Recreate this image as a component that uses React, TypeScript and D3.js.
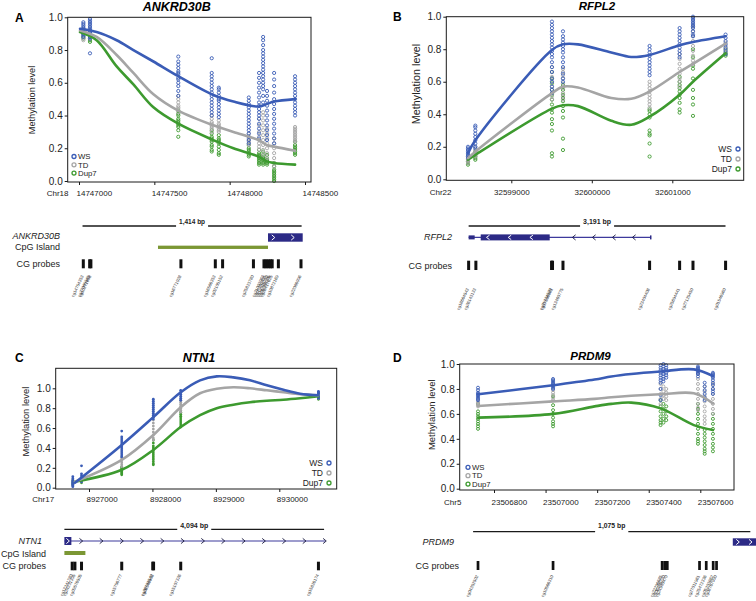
import React, { useEffect, useRef } from "react";
import * as d3 from "d3";

const FONT = "'Liberation Sans', Arial, Helvetica, sans-serif";
const colors: any = { WS: "#3a5cb6", TD: "#a5a5a5", Dup7: "#3d9a2f" };
const geneColor = "#2c2a86";
const cpgColor = "#7b9734";
const drawOrder = ["Dup7", "TD", "WS"];
const legendOrder = ["WS", "TD", "Dup7"];
const yTicks = [0, 0.2, 0.4, 0.6, 0.8, 1.0];

// ---------- A: ANKRD30B (Chr18) ----------
const aTicks = [14747000, 14747500, 14748000, 14748500];
const aCols = [14747029, 14747073, 14747659, 14747881, 14747928, 14748127, 14748195, 14748222, 14748248, 14748295, 14748434];
const aWS = [
  [0.97, 0.96, 0.95, 0.94, 0.93, 0.92, 0.91, 0.9, 0.89, 0.88],
  [0.99, 0.98, 0.97, 0.96, 0.95, 0.94, 0.93, 0.92, 0.91, 0.9, 0.89, 0.88, 0.87, 0.78],
  [0.76, 0.73, 0.71, 0.69, 0.67, 0.66, 0.65, 0.63, 0.62, 0.6, 0.58, 0.55, 0.52],
  [0.75, 0.66, 0.64, 0.62, 0.6, 0.58, 0.56, 0.54, 0.52, 0.5, 0.48, 0.46, 0.44, 0.42, 0.4],
  [0.57, 0.56, 0.54, 0.52, 0.5, 0.49, 0.47, 0.45, 0.43, 0.41, 0.39],
  [0.51, 0.49, 0.47, 0.45, 0.43, 0.41, 0.39, 0.37, 0.35, 0.33, 0.31, 0.29, 0.27, 0.25, 0.23],
  [0.66, 0.63, 0.6, 0.57, 0.54, 0.51, 0.48, 0.46, 0.44, 0.42, 0.4, 0.38, 0.35, 0.32, 0.29, 0.26],
  [0.88, 0.86, 0.83, 0.8, 0.78, 0.76, 0.74, 0.72, 0.7, 0.68, 0.66, 0.64, 0.62, 0.6, 0.58, 0.56, 0.52, 0.48],
  [0.55, 0.52, 0.49, 0.46, 0.43, 0.4, 0.37, 0.34, 0.31, 0.28, 0.25],
  [0.66, 0.62, 0.58, 0.54, 0.5, 0.47, 0.44, 0.41, 0.38, 0.35, 0.32, 0.29, 0.26, 0.23],
  [0.64, 0.62, 0.6, 0.58, 0.56, 0.54, 0.52, 0.5, 0.48, 0.46, 0.44, 0.42, 0.4],
];
const aTD = [
  [0.93, 0.91, 0.89, 0.87, 0.86],
  [0.91, 0.89, 0.87],
  [0.52, 0.5, 0.48, 0.46, 0.45, 0.44, 0.42],
  [0.4, 0.38, 0.36, 0.35, 0.34, 0.33, 0.32, 0.3],
  [0.37, 0.35, 0.34, 0.33, 0.32, 0.31, 0.3],
  [0.29, 0.27, 0.26, 0.25, 0.24, 0.23, 0.22],
  [0.38, 0.34, 0.3, 0.27, 0.25, 0.23, 0.21, 0.19],
  [0.42, 0.4, 0.37, 0.34, 0.31, 0.28, 0.25, 0.22, 0.19, 0.16],
  [0.32, 0.29, 0.26, 0.23, 0.2, 0.17, 0.14],
  [0.26, 0.23, 0.2, 0.17, 0.14, 0.11, 0.09],
  [0.33, 0.32, 0.31, 0.3, 0.29, 0.28, 0.27, 0.26, 0.25, 0.24],
];
const aDup7 = [
  [0.9, 0.88, 0.87],
  [0.88, 0.86, 0.85],
  [0.43, 0.41, 0.4, 0.38, 0.37, 0.36, 0.35, 0.34, 0.33, 0.31, 0.27],
  [0.31, 0.29, 0.27, 0.26, 0.25, 0.24, 0.22, 0.21, 0.19, 0.18],
  [0.28, 0.26, 0.25, 0.24, 0.23, 0.21, 0.19, 0.17, 0.16],
  [0.22, 0.2, 0.19, 0.18, 0.17, 0.16, 0.15],
  [0.19, 0.17, 0.16, 0.15, 0.14, 0.13, 0.12, 0.11, 0.1],
  [0.18, 0.16, 0.15, 0.14, 0.13, 0.12, 0.11, 0.1],
  [0.16, 0.14, 0.13, 0.12, 0.11, 0.1],
  [0.11, 0.09, 0.07, 0.06, 0.05, 0.04, 0.03, 0.02, 0.01, 0.0],
  [0.24, 0.22, 0.21, 0.2, 0.19, 0.18, 0.17, 0.16],
];
const aLineX = [14747007, 14747117, 14747250, 14747361, 14747494, 14747659, 14747892, 14748025, 14748191, 14748246, 14748295, 14748434];
const aLineWS = [0.93, 0.91, 0.86, 0.8, 0.73, 0.64, 0.525, 0.485, 0.455, 0.47, 0.485, 0.5];
const aLineTD = [0.92, 0.88, 0.77, 0.66, 0.53, 0.43, 0.34, 0.3, 0.25, 0.22, 0.21, 0.185];
const aLineDup7 = [0.91, 0.86, 0.7, 0.59, 0.45, 0.35, 0.25, 0.2, 0.15, 0.12, 0.11, 0.1];
const aProbes = [14747029, 14747070, 14747078, 14747659, 14747881, 14747928, 14748127, 14748195, 14748208, 14748222, 14748236, 14748248, 14748288, 14748434];
const aProbeIds = ["cg14754353", "cg27085565", "cg10271858", "cg16771028", "cg16586353", "cg02105152", "cg25823780", "cg21002063", "cg07352435", "cg14916252", "cg05388305", "cg26417825", "cg10872169", "cg22086096"];
const aSpan = [14747024, 14748438];
const aExons = [[14748221, 14748445, 8.4]];
const aCpG = [14747511, 14748221];

// ---------- B: RFPL2 (Chr22) ----------
const bTicks = [32599000, 32600000, 32601000];
const bCols = [32598462, 32598553, 32599505, 32599642, 32600718, 32601091, 32601257, 32601662];
const bWS = [
  [0.2, 0.19, 0.18, 0.17, 0.16, 0.15, 0.14, 0.13],
  [0.33, 0.32, 0.3, 0.28, 0.26, 0.24, 0.22, 0.2, 0.19],
  [0.97, 0.95, 0.93, 0.91, 0.89, 0.87, 0.85, 0.83, 0.81, 0.79, 0.77, 0.75, 0.72, 0.69, 0.66, 0.62, 0.6, 0.57, 0.55, 0.53],
  [0.91, 0.88, 0.86, 0.84, 0.82, 0.8, 0.78, 0.75, 0.72, 0.69, 0.65, 0.62, 0.6],
  [0.82, 0.8, 0.78, 0.76, 0.74, 0.72, 0.7, 0.68, 0.66, 0.64],
  [0.93, 0.91, 0.89, 0.87, 0.85, 0.83, 0.81, 0.79, 0.77, 0.75],
  [1.0, 0.99, 0.98, 0.97, 0.96, 0.95, 0.94, 0.93, 0.91, 0.89, 0.88],
  [0.89, 0.87, 0.85, 0.83, 0.81, 0.79, 0.77],
];
const bTD = [
  [0.14, 0.13, 0.12, 0.11, 0.1],
  [0.2, 0.18, 0.17, 0.16, 0.15, 0.14],
  [0.69, 0.66, 0.63, 0.6, 0.57, 0.55, 0.53, 0.51, 0.49],
  [0.68, 0.66, 0.64, 0.62, 0.59, 0.56, 0.53, 0.51, 0.49],
  [0.6, 0.58, 0.56, 0.54, 0.52, 0.5, 0.48, 0.46, 0.44],
  [0.77, 0.74, 0.71, 0.68, 0.65, 0.62, 0.6, 0.57],
  [0.94, 0.91, 0.88, 0.85, 0.82, 0.79, 0.76, 0.73, 0.71],
  [0.84, 0.82, 0.8, 0.78],
];
const bDup7 = [
  [0.11, 0.1, 0.09],
  [0.17, 0.15, 0.14, 0.13, 0.12],
  [0.66, 0.62, 0.59, 0.55, 0.52, 0.49, 0.46, 0.43, 0.41, 0.37, 0.34, 0.3, 0.16, 0.14],
  [0.58, 0.55, 0.52, 0.5, 0.48, 0.45, 0.42, 0.38, 0.25, 0.18],
  [0.43, 0.42, 0.4, 0.38, 0.3, 0.28, 0.27, 0.22, 0.14],
  [0.63, 0.6, 0.58, 0.56, 0.54, 0.52, 0.5, 0.47, 0.43, 0.41],
  [0.8, 0.75, 0.7, 0.68, 0.62, 0.55, 0.5, 0.46, 0.39],
  [0.8, 0.78, 0.77, 0.76],
];
const bLineX = [32598462, 32598553, 32599505, 32599642, 32599828, 32600242, 32600490, 32600718, 32601091, 32601257, 32601662];
const bLineWS = [0.16, 0.24, 0.795, 0.83, 0.83, 0.78, 0.752, 0.765, 0.825, 0.845, 0.88];
const bLineTD = [0.13, 0.17, 0.53, 0.57, 0.565, 0.5, 0.495, 0.54, 0.66, 0.71, 0.835];
const bLineDup7 = [0.12, 0.15, 0.435, 0.455, 0.45, 0.36, 0.335, 0.385, 0.52, 0.6, 0.775];
const bProbes = [32598470, 32598560, 32599500, 32599512, 32599642, 32600718, 32601091, 32601257, 32601662];
const bProbeIds = ["cg18664543", "cg26143133", "cg01234520", "cg17556081", "cg13460775", "cg23404408", "cg25694441", "cg27125450", "cg01546960"];
const bSpan = [32598470, 32601661];
const bExons = [[32598470, 32598545, 4], [32598620, 32599477, 6]];
const bIntron = [32598470, 32600732];

// ---------- C: NTN1 (Chr17) ----------
const cTicks = [8927000, 8928000, 8929000, 8930000];
const cCols = [8926745, 8926882, 8927516, 8928014, 8928446, 8930617];
const cWS = [
  [0.11, 0.09, 0.07, 0.06, 0.05, 0.04, 0.03, 0.02, 0.01],
  [0.22, 0.14, 0.12, 0.1, 0.08, 0.06],
  [0.57, 0.51, 0.49, 0.47, 0.45, 0.43, 0.41, 0.39, 0.37, 0.35, 0.33, 0.31],
  [0.89, 0.87, 0.85, 0.83, 0.81, 0.79, 0.77, 0.75, 0.73, 0.71, 0.69],
  [0.98, 0.96, 0.94, 0.92, 0.9, 0.88],
  [0.97, 0.96, 0.95, 0.94, 0.93, 0.92, 0.91, 0.9],
];
const cTD = [
  [0.08, 0.06, 0.04, 0.03],
  [0.08, 0.07, 0.06],
  [0.31, 0.29, 0.27, 0.25, 0.23, 0.21],
  [0.68, 0.65, 0.62, 0.59, 0.56, 0.53, 0.5, 0.48],
  [0.88, 0.86, 0.84, 0.82, 0.8, 0.78, 0.76],
  [0.94, 0.93, 0.92, 0.91, 0.9],
];
const cDup7 = [
  [0.07, 0.05, 0.04, 0.03],
  [0.07, 0.06, 0.05],
  [0.21, 0.2, 0.19, 0.18, 0.17, 0.16, 0.15, 0.14, 0.13],
  [0.48, 0.45, 0.42, 0.4, 0.38, 0.36, 0.34, 0.32, 0.3, 0.28, 0.26, 0.24, 0.23],
  [0.76, 0.74, 0.72, 0.7, 0.68, 0.66, 0.64, 0.62, 0.61],
  [0.93, 0.92, 0.91, 0.9, 0.89],
];
const cLineX = [8926779, 8927516, 8928014, 8928446, 8928751, 8929014, 8929276, 8929539, 8929803, 8930065, 8930328, 8930617];
const cLineWS = [0.05, 0.43, 0.71, 0.96, 1.08, 1.12, 1.11, 1.08, 1.03, 0.985, 0.946, 0.93];
const cLineTD = [0.06, 0.28, 0.53, 0.81, 0.95, 0.995, 1.01, 1.0, 0.98, 0.96, 0.94, 0.93];
const cLineDup7 = [0.06, 0.18, 0.38, 0.61, 0.73, 0.8, 0.835, 0.86, 0.875, 0.885, 0.9, 0.92];
const cProbes = [8926735, 8926778, 8926882, 8927516, 8928005, 8928018, 8928446, 8930617];
const cProbeIds = ["cg13241780", "cg24231395", "cg09576505", "cg15756777", "cg26783542", "cg08546503", "cg15107326", "cg15826174"];
const cSpan = [8926612, 8930706];
const cExons = [[8926612, 8926722, 8]];
const cIntron = [8926612, 8930722];
const cCpG = [8926612, 8926943];

// ---------- D: PRDM9 (Chr5) ----------
const dTicks = [23506800, 23507000, 23507200, 23507400, 23507600];
const dCols = [23506738, 23507029, 23507446, 23507457, 23507468, 23507591, 23507617, 23507649];
const dWS = [
  [0.81, 0.79, 0.77, 0.76, 0.75, 0.74, 0.73, 0.72, 0.71],
  [0.88, 0.87, 0.86, 0.85, 0.84, 0.83, 0.82, 0.81, 0.8],
  [0.99, 0.97, 0.95, 0.93, 0.91, 0.89, 0.87, 0.85, 0.8, 0.75, 0.71],
  [1.0, 0.98, 0.96, 0.94, 0.92, 0.9, 0.88, 0.86],
  [0.99, 0.97, 0.95, 0.93, 0.91, 0.89],
  [0.98, 0.97, 0.96, 0.95, 0.94, 0.93, 0.92, 0.9],
  [0.85, 0.82, 0.79, 0.76, 0.73, 0.71],
  [0.93, 0.92, 0.91, 0.9, 0.89, 0.87, 0.85, 0.83, 0.8, 0.78, 0.76],
];
const dTD = [
  [0.7, 0.69, 0.68, 0.67, 0.66],
  [0.79, 0.77, 0.75, 0.73, 0.71],
  [0.84, 0.8, 0.76, 0.72, 0.68],
  [0.82, 0.78, 0.75, 0.72],
  [0.8, 0.77, 0.74, 0.71],
  [0.92, 0.88, 0.84, 0.8, 0.76, 0.72, 0.68, 0.65, 0.63],
  [0.82, 0.78, 0.74, 0.7, 0.66, 0.62, 0.58, 0.55, 0.52],
  [0.84, 0.8, 0.76, 0.72, 0.68, 0.64, 0.6],
];
const dDup7 = [
  [0.68, 0.62, 0.6, 0.58, 0.56, 0.54, 0.52, 0.5, 0.48],
  [0.74, 0.67, 0.63, 0.6, 0.57, 0.54, 0.52, 0.5],
  [0.71, 0.66, 0.62, 0.58, 0.55, 0.53, 0.51],
  [0.68, 0.64, 0.6, 0.56, 0.53],
  [0.66, 0.62, 0.58, 0.55],
  [0.68, 0.64, 0.6, 0.56, 0.52, 0.48, 0.44, 0.4, 0.38, 0.36],
  [0.47, 0.44, 0.41, 0.38, 0.35, 0.32, 0.3, 0.28],
  [0.6, 0.56, 0.52, 0.48, 0.44, 0.4, 0.36, 0.33, 0.3],
];
const dLineX = [23506738, 23507029, 23507190, 23507255, 23507332, 23507446, 23507575, 23507649];
const dLineWS = [0.757, 0.83, 0.875, 0.9, 0.92, 0.94, 0.957, 0.904];
const dLineTD = [0.663, 0.7, 0.72, 0.733, 0.745, 0.757, 0.765, 0.684];
const dLineDup7 = [0.57, 0.6, 0.66, 0.68, 0.69, 0.644, 0.51, 0.47];
const dProbes = [23506738, 23507029, 23507452, 23507462, 23507472, 23507597, 23507623, 23507650, 23507663];
const dProbeIds = ["cg04352502", "cg10566310", "cg22296685", "cg06486220", "cg24940470", "cg27011961", "cg25472336", "cg05203862", "cg08767090"];
const dSpan = [23506719, 23507794];
const dExons = [[23507726, 23507840, 7.4]];

const panels: any[] = [
  {
    letter: "A", title: "ANKRD30B", chrom: "Chr18", ticks: aTicks, cols: aCols,
    dots: { WS: aWS, TD: aTD, Dup7: aDup7 }, lineX: aLineX,
    lines: { WS: aLineWS, TD: aLineTD, Dup7: aLineDup7 },
    probes: aProbes, probeIds: aProbeIds, span: aSpan, exons: aExons, intron: null, strand: 1, cpg: aCpG,
    L: {
      x0: 79, x1: 305, boxL: 67.7, boxR: 311, boxT: 17.3, boxB: 182, yZero: 181, yOne: 17.3,
      tickAnchor: "start", tickDx: -3, tickY: 196, chromX: 46.7, ylabX: 31.7, ylabY: 100, ylabSize: 9.2,
      titleX: 176.7, titleY: 10.5, titleSize: 12.5, letterX: 15, letterY: 21.7,
      legX: 74, legY: 156.5, legStep: 8.3, legSide: "left", legSize: 7.8, dotR: 1.6, filled: false,
    },
    T: {
      range: [83.3, 301], spanY: 226, spanLabelY: 224.3, spanSize: 6.5, nameX: 60, nameY: 239.3, geneY: 237.5,
      cpgY: 247.3, cpgH: 3.3, cpgLabelX: 60, cpgLabelY: 249.8, probeTop: 259.3, probeH: 9, probeW: 3,
      probeLabelX: 60, probeLabelY: 267, idY: 276, exonChev: [5.3, 19.4], intronChev: null,
    },
  },
  {
    letter: "B", title: "RFPL2", chrom: "Chr22", ticks: bTicks, cols: bCols,
    dots: { WS: bWS, TD: bTD, Dup7: bDup7 }, lineX: bLineX,
    lines: { WS: bLineWS, TD: bLineTD, Dup7: bLineDup7 },
    probes: bProbes, probeIds: bProbeIds, span: bSpan, exons: bExons, intron: bIntron, strand: -1, cpg: null,
    L: {
      x0: 511.3, x1: 672.3, boxL: 446.3, boxR: 743.7, boxT: 16.7, boxB: 180.3, yZero: 179.3, yOne: 16.7,
      tickAnchor: "middle", tickDx: 0, tickY: 195, chromX: 429.7, ylabX: 416.3, ylabY: 84, ylabSize: 10.8,
      titleX: 597, titleY: 9.5, titleSize: 11.5, letterX: 393, letterY: 21,
      legX: 732, legY: 149, legStep: 10, legSide: "right", legSize: 8.5, dotR: 1.6, filled: false,
    },
    T: {
      spanY: 226, spanLabelY: 224, spanSize: 7, nameX: 452, nameY: 240.2, geneY: 237.4,
      probeTop: 260.7, probeH: 9.3, probeW: 3, probeLabelX: 452, probeLabelY: 268.5, idY: 289,
      exonChev: [7.3, 21.7], intronChev: [24.3, 20],
    },
  },
  {
    letter: "C", title: "NTN1", chrom: "Chr17", ticks: cTicks, cols: cCols,
    dots: { WS: cWS, TD: cTD, Dup7: cDup7 }, lineX: cLineX,
    lines: { WS: cLineWS, TD: cLineTD, Dup7: cLineDup7 },
    probes: cProbes, probeIds: cProbeIds, span: cSpan, exons: cExons, intron: cIntron, strand: 1, cpg: cCpG,
    L: {
      x0: 89, x1: 279.3, boxL: 55.7, boxR: 336.7, boxT: 368.3, boxB: 489, yZero: 487.7, yOne: 388.3,
      tickAnchor: "start", tickDx: -3, tickY: 502, chromX: 32.3, ylabX: 26, ylabY: 421.7, ylabSize: 9.4,
      titleX: 199, titleY: 361.7, titleSize: 12.5, letterX: 15, letterY: 361.7,
      legX: 323, legY: 463, legStep: 10, legSide: "right", legSize: 8.5, dotR: 1.4, filled: true,
    },
    T: {
      spanY: 529.3, spanLabelY: 527.5, spanSize: 7, nameX: 42, nameY: 544, geneY: 541,
      cpgY: 553, cpgH: 4, cpgLabelX: 46, cpgLabelY: 557, probeTop: 561.7, probeH: 8.6, probeW: 3,
      probeLabelX: 46, probeLabelY: 569, idY: 575, exonChev: [3.5, 100], intronChev: [9.7, 20.3],
    },
  },
  {
    letter: "D", title: "PRDM9", chrom: "Chr5", ticks: dTicks, cols: dCols,
    dots: { WS: dWS, TD: dTD, Dup7: dDup7 }, lineX: dLineX,
    lines: { WS: dLineWS, TD: dLineTD, Dup7: dLineDup7 },
    probes: dProbes, probeIds: dProbeIds, span: dSpan, exons: dExons, intron: null, strand: 1, cpg: null,
    L: {
      x0: 494, x1: 700.3, boxL: 459.7, boxR: 734, boxT: 364, boxB: 490, yZero: 488.7, yOne: 364,
      tickAnchor: "start", tickDx: -3, tickY: 505.3, chromX: 444, ylabX: 431.3, ylabY: 414.7, ylabSize: 9.5,
      titleX: 590.5, titleY: 360, titleSize: 11.5, letterX: 393, letterY: 361.7,
      legX: 468, legY: 467.3, legStep: 8.4, legSide: "left", legSize: 7.8, dotR: 1.5, filled: false,
    },
    T: {
      spanY: 531.7, spanLabelY: 527.7, spanSize: 6.8, nameX: 454, nameY: 545, geneY: 542,
      probeTop: 561, probeH: 9, probeW: 2.7, probeLabelX: 459, probeLabelY: 568.5, idY: 576,
      exonChev: [5, 12.7], intronChev: null,
    },
  },
];

function chevron(cx: number, cy: number, dir: number, hw = 1.5, hh = 2.5) {
  return `M${cx - dir * hw},${cy - hh}L${cx + dir * hw},${cy}L${cx - dir * hw},${cy + hh}`;
}

function drawPanel(svg: any, p: any) {
  const L = p.L, T = p.T;
  const g = svg.append("g").attr("font-family", FONT);
  const x = d3.scaleLinear().domain([p.ticks[0], p.ticks[p.ticks.length - 1]]).range([L.x0, L.x1]);
  const y = d3.scaleLinear().domain([0, 1]).range([L.yZero, L.yOne]);

  // dots
  drawOrder.forEach((grp) => {
    const pts = p.dots[grp].flatMap((vals: number[], i: number) => vals.map((v) => [p.cols[i], v]));
    g.append("g").selectAll("circle").data(pts).join("circle")
      .attr("cx", (d: any) => x(d[0]))
      .attr("cy", (d: any) => y(d[1]))
      .attr("r", L.dotR)
      .attr("fill", L.filled ? colors[grp] : "none")
      .attr("stroke", colors[grp])
      .attr("stroke-width", L.filled ? 0 : 0.9);
  });

  // smoothed lines
  const line = d3.line<number>()
    .x((_d, i) => x(p.lineX[i]))
    .y((d) => y(d))
    .curve(d3.curveCatmullRom.alpha(0.5));
  drawOrder.forEach((grp) => {
    g.append("path").attr("d", line(p.lines[grp]))
      .attr("fill", "none").attr("stroke", colors[grp])
      .attr("stroke-width", 2.6).attr("stroke-linecap", "round");
  });

  // frame
  g.append("rect").attr("x", L.boxL).attr("y", L.boxT)
    .attr("width", L.boxR - L.boxL).attr("height", L.boxB - L.boxT)
    .attr("fill", "none").attr("stroke", "#1a1a1a").attr("stroke-width", 1);

  const ya = g.append("g").attr("transform", `translate(${L.boxL},0)`)
    .call(d3.axisLeft(y).tickValues(yTicks).tickSize(3).tickPadding(2).tickFormat(d3.format(".1f")));
  ya.select(".domain").remove();
  ya.attr("font-family", FONT).attr("font-size", 10);
  ya.selectAll("line").attr("stroke", "#1a1a1a");
  ya.selectAll("text").attr("fill", "#222");

  const xa = g.append("g").attr("transform", `translate(0,${L.boxB})`)
    .call(d3.axisBottom(x).tickValues(p.ticks).tickSize(3).tickFormat(d3.format("d")));
  xa.select(".domain").remove();
  xa.attr("font-family", FONT).attr("font-size", 8);
  xa.selectAll("line").attr("stroke", "#1a1a1a");
  xa.selectAll("text").attr("fill", "#222").attr("y", L.tickY - L.boxB).attr("dy", null)
    .attr("dx", L.tickDx).attr("text-anchor", L.tickAnchor);

  g.append("text").attr("x", L.chromX).attr("y", L.tickY).attr("font-size", 8).attr("fill", "#222").text(p.chrom);

  g.append("text").attr("transform", `translate(${L.ylabX},${L.ylabY}) rotate(-90)`)
    .attr("text-anchor", "middle").attr("dy", "0.35em").attr("font-size", L.ylabSize).attr("fill", "#222")
    .text("Methylation level");

  g.append("text").attr("x", L.titleX).attr("y", L.titleY).attr("text-anchor", "middle")
    .attr("font-size", L.titleSize).attr("font-weight", "bold").attr("font-style", "italic").text(p.title);
  g.append("text").attr("x", L.letterX).attr("y", L.letterY)
    .attr("font-size", 12).attr("font-weight", "bold").text(p.letter);

  // legend
  legendOrder.forEach((grp, i) => {
    const cy = L.legY + i * L.legStep;
    const cx = L.legSide === "left" ? L.legX : L.legX + 6;
    g.append("circle").attr("cx", cx).attr("cy", cy).attr("r", 2)
      .attr("fill", "none").attr("stroke", colors[grp]).attr("stroke-width", 1.3);
    g.append("text").attr("x", L.legSide === "left" ? L.legX + 4 : L.legX).attr("y", cy).attr("dy", "0.35em")
      .attr("text-anchor", L.legSide === "left" ? "start" : "end").attr("font-size", L.legSize)
      .attr("fill", "#222").text(grp);
  });

  // ---------- gene track ----------
  const tx = T.range
    ? d3.scaleLinear().domain([p.probes[0], p.probes[p.probes.length - 1]]).range(T.range)
    : x;
  const s0 = tx(p.span[0]), s1 = tx(p.span[1]), sm = (s0 + s1) / 2;
  const lbl = g.append("text").attr("x", sm).attr("y", T.spanLabelY).attr("text-anchor", "middle")
    .attr("font-size", T.spanSize).attr("font-weight", "bold").attr("fill", "#222")
    .text(`${d3.format(",")(p.span[1] - p.span[0])} bp`);
  const half = (lbl.node() as SVGTextElement).getComputedTextLength() / 2 + 3;
  [[s0, sm - half], [sm + half, s1]].forEach(([a, b]) => {
    g.append("line").attr("x1", a).attr("x2", b).attr("y1", T.spanY).attr("y2", T.spanY)
      .attr("stroke", "#1a1a1a").attr("stroke-width", 1.3);
  });

  g.append("text").attr("x", T.nameX).attr("y", T.nameY).attr("text-anchor", "end")
    .attr("font-size", 9).attr("font-style", "italic").attr("fill", "#222").text(p.title);

  let exonEnd = 0;
  p.exons.forEach((e: number[]) => { exonEnd = Math.max(exonEnd, tx(e[1])); });
  if (p.intron) {
    const i0 = tx(p.intron[0]), i1 = tx(p.intron[1]);
    g.append("line").attr("x1", i0).attr("x2", i1).attr("y1", T.geneY).attr("y2", T.geneY)
      .attr("stroke", "#3d3a9c").attr("stroke-width", 1.2);
    if (p.strand < 0) {
      g.append("line").attr("x1", i1).attr("x2", i1).attr("y1", T.geneY - 2).attr("y2", T.geneY + 2)
        .attr("stroke", geneColor).attr("stroke-width", 1.5);
    }
    if (T.intronChev) {
      d3.range(exonEnd + T.intronChev[0], i1 + 0.6, T.intronChev[1]).forEach((cx: number) => {
        g.append("path").attr("d", chevron(cx, T.geneY, p.strand, 1.6, 2.6))
          .attr("fill", "none").attr("stroke", "#1a1a40").attr("stroke-width", 0.9);
      });
    }
  }
  p.exons.forEach((e: number[]) => {
    const e0 = tx(e[0]), e1 = tx(e[1]);
    g.append("rect").attr("x", e0).attr("y", T.geneY - e[2] / 2).attr("width", e1 - e0).attr("height", e[2])
      .attr("fill", geneColor);
    if (e1 - e0 > 6) {
      d3.range(e0 + T.exonChev[0], e1 - 1, T.exonChev[1]).forEach((cx: number) => {
        g.append("path").attr("d", chevron(cx, T.geneY, p.strand, 1.5, Math.min(2.6, e[2] / 2 - 0.8)))
          .attr("fill", "none").attr("stroke", "#fff").attr("stroke-width", 1);
      });
    }
  });

  if (p.cpg) {
    g.append("rect").attr("x", tx(p.cpg[0])).attr("y", T.cpgY - T.cpgH / 2)
      .attr("width", tx(p.cpg[1]) - tx(p.cpg[0])).attr("height", T.cpgH).attr("fill", cpgColor);
    g.append("text").attr("x", T.cpgLabelX).attr("y", T.cpgLabelY).attr("text-anchor", "end")
      .attr("font-size", 9).attr("fill", "#222").text("CpG Island");
  }

  g.append("text").attr("x", T.probeLabelX).attr("y", T.probeLabelY).attr("text-anchor", "end")
    .attr("font-size", 9).attr("fill", "#222").text("CG probes");
  g.append("g").selectAll("rect").data(p.probes).join("rect")
    .attr("x", (d: number) => tx(d) - T.probeW / 2).attr("y", T.probeTop)
    .attr("width", T.probeW).attr("height", T.probeH).attr("fill", "#111");
  g.append("g").selectAll("text").data(p.probes).join("text")
    .attr("transform", (d: number) => `translate(${tx(d) + 0.5},${T.idY}) rotate(-65)`)
    .attr("text-anchor", "end").attr("font-size", 4.3).attr("fill", "#333")
    .text((_d: number, i: number) => p.probeIds[i]);
}

export default function App() {
  const ref = useRef<SVGSVGElement>(null);
  useEffect(() => {
    const svg = d3.select(ref.current);
    svg.selectAll("*").remove();
    panels.forEach((p) => drawPanel(svg, p));
  }, []);
  return (
    <svg
      ref={ref}
      width={756}
      height={601}
      style={{ position: "absolute", left: 0, top: 0, background: "#fff" }}
    />
  );
}
